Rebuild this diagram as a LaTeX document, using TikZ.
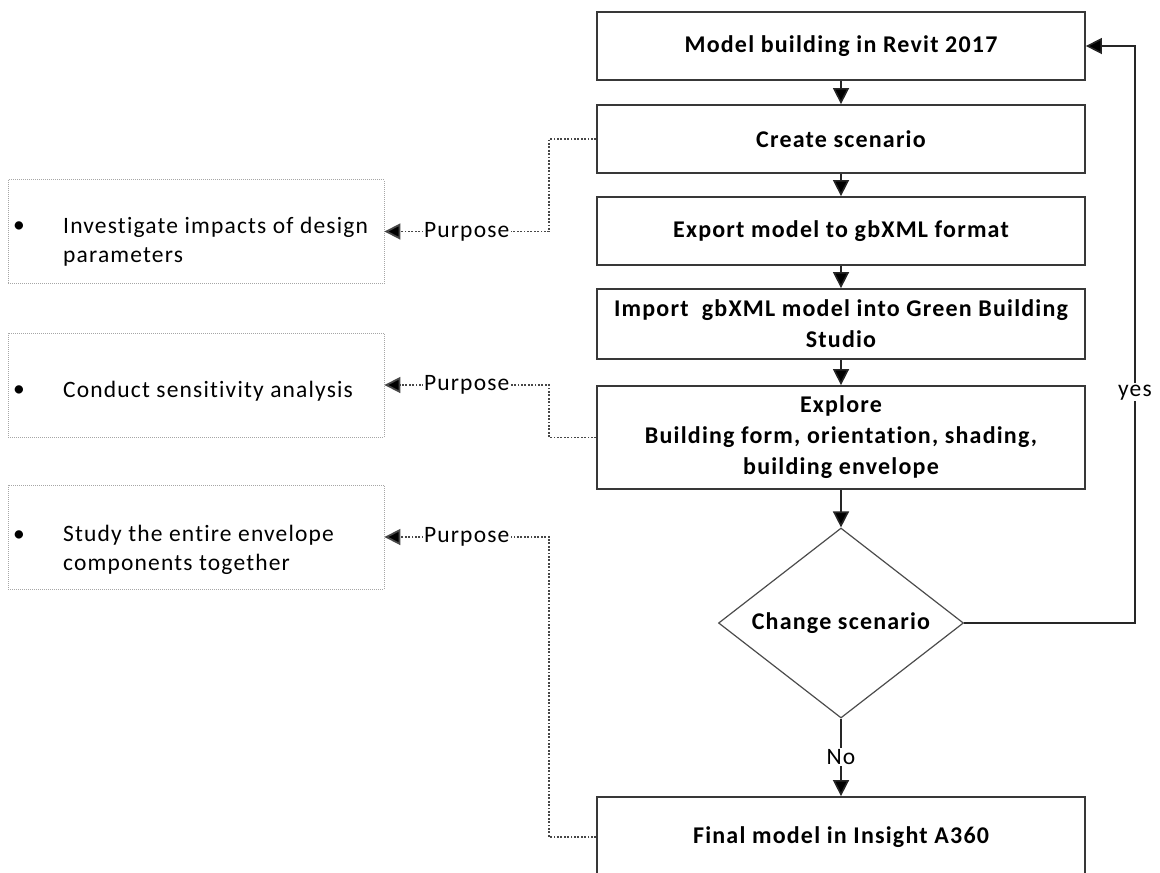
\documentclass[tikz,border=0pt]{standalone}
\usepackage{fontspec}
\setmainfont{Carlito}[LetterSpace=5,Ligatures=NoCommon]
\usetikzlibrary{shapes.geometric,arrows.meta,calc}
\tikzset{
 mainbox/.style={draw=black!78, line width=1.8pt, fill=white, minimum width=488pt, inner sep=0pt, align=center, font=\bfseries\fontsize{24}{31}\selectfont},
 decide/.style={diamond, draw=black!70, line width=1.2pt, fill=white, inner sep=0pt, minimum width=245pt, minimum height=190pt, aspect=1.29, font=\bfseries\fontsize{24}{31}\selectfont},
 sidebox/.style={draw=black!35, dash pattern=on 1pt off 1pt, line width=0.9pt, minimum width=376pt, minimum height=104pt, inner sep=0pt},
 sidetext/.style={font=\fontsize{23.5}{29}\selectfont, align=left, inner sep=0pt},
 con/.style={draw=black!85, line width=1.6pt, -{Triangle[length=16pt,width=16pt,fill=black]}},
 purp/.style={draw=black!72, line width=1.8pt, dash pattern=on 1.8pt off 1.6pt, -{Triangle[length=16pt,width=16pt,fill=black]}},
 lbl/.style={fill=white, inner sep=1.5pt, font=\fontsize{23.5}{26}\selectfont},
}
\begin{document}
\begin{tikzpicture}[x=1pt,y=-1pt]
\useasboundingbox (0,0) rectangle (1160,873);
\clip (0,0) rectangle (1160,873);
% side boxes
\node[sidebox] (L1) at (196,231.5) {};
\node[sidebox] (L2) at (196,385) {};
\node[sidebox] (L3) at (196,537) {};
\node[sidetext] (b1) at (19,227) {•};
\node[sidetext, anchor=west] (t1) at (63,242) {Investigate impacts of design\\parameters};
\node[sidetext] (b2) at (19,391) {•};
\node[sidetext, anchor=west] (t2) at (63,391) {Conduct sensitivity analysis};
\node[sidetext] (b3) at (19,536) {•};
\node[sidetext, anchor=west] (t3) at (63,550) {Study the entire envelope\\components together};
% main flow
\node[mainbox, minimum height=68pt] (B1) at (841,46) {Model building in Revit 2017};
\node[mainbox, minimum height=68pt] (B2) at (841,139) {Create scenario};
\node[mainbox, minimum height=68pt] (B3) at (841,231) {Export model to gbXML format};
\node[mainbox, minimum height=70pt] (B4) at (841,324) {Import\ \ gbXML model into Green Building\\Studio};
\node[mainbox, minimum height=103pt] (B5) at (841,437.5) {Explore\\Building form, orientation, shading,\\building envelope};
\node[decide] (D) at (841,623) {Change scenario};
\node[mainbox, minimum height=80pt] (B6) at (841,837) {Final model in Insight A360};
% connectors
\draw[con] (B1.south) -- (B2.north);
\draw[con] (B2.south) -- (B3.north);
\draw[con] (B3.south) -- (B4.north);
\draw[con] (B4.south) -- (B5.north);
\draw[con] (B5.south) -- (D.north);
\draw[con] (D.south) -- (B6.north) node[lbl, midway] {No};
\coordinate (ycorner) at (1135,623);
\draw[con] (D.east) -- (ycorner) |- (B1.east) node[lbl, pos=0.2] {yes};
% purpose connectors
\coordinate (p1) at (549,139);
\coordinate (p2) at (549,437.5);
\coordinate (p3) at (549,837);
\draw[purp] (B2.west) -- (p1) |- (L1.east) node[lbl, pos=0.75] {Purpose};
\draw[purp] (B5.west) -- (p2) |- (L2.east) node[lbl, pos=0.75] {Purpose};
\draw[purp] (B6.west) -- (p3) |- (L3.east) node[lbl, pos=0.75] {Purpose};
\end{tikzpicture}
\end{document}
